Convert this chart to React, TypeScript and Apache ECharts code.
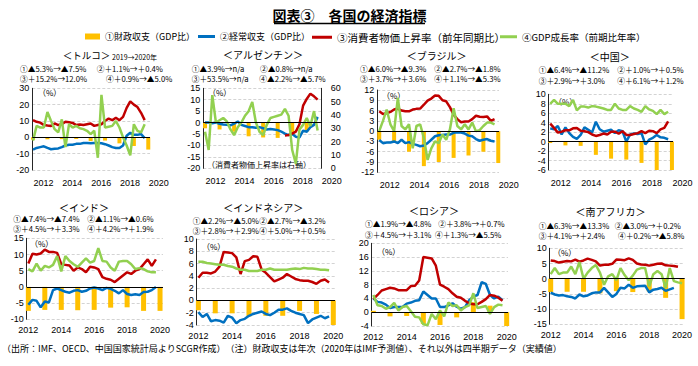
import React, { useEffect, useRef } from 'react';
import * as echarts from 'echarts';

// ---------- categories / ticks ----------
const YEARS = [2012, 2013, 2014, 2015, 2016, 2017, 2018, 2019, 2020];
const YEAR_TICKS = [2012, 2014, 2016, 2018, 2020];
const QUARTER_START = 2012;

const SERIES_NAMES = [
  '①財政収支（GDP比）',
  '②経常収支（GDP比）',
  '③消費者物価上昇率（前年同期比）',
  '④GDP成長率（前期比年率）',
];

const COUNTRY_TITLES = ['＜トルコ＞', '＜アルゼンチン＞', '＜ブラジル＞', '＜中国＞', '＜インド＞', '＜インドネシア＞', '＜ロシア＞', '＜南アフリカ＞'];

const COUNTRY_NOTES = [
  ['①▲5.3%→▲7.5%', '②＋1.1%→＋0.4%', '③＋15.2%→12.0%', '④＋0.9%→▲5.0%'],
  ['①▲3.9%→n/a', '②▲0.8%→n/a', '③＋53.5%→n/a', '④▲2.2%→▲5.7%'],
  ['①▲6.0%→▲9.3%', '②▲2.7%→▲1.8%', '③＋3.7%→＋3.6%', '④＋1.1%→▲5.3%'],
  ['①▲6.4%→▲11.2%', '②＋1.0%→＋0.5%', '③＋2.9%→＋3.0%', '④＋6.1%→＋1.2%'],
  ['①▲7.4%→▲7.4%', '②▲1.1%→▲0.6%', '③＋4.5%→＋3.3%', '④＋4.2%→＋1.9%'],
  ['①▲2.2%→▲5.0%', '②▲2.7%→▲3.2%', '③＋2.8%→＋2.9%', '④＋5.0%→＋0.5%'],
  ['①▲1.9%→▲4.8%', '②＋3.8%→＋0.7%', '③＋4.5%→＋3.1%', '④＋1.3%→▲5.5%'],
  ['①▲6.3%→▲13.3%', '②▲3.0%→＋0.2%', '③＋4.1%→＋2.4%', '④＋0.2%→▲5.8%'],
];

// ---------- Turkey ----------
const trFiscal = [-1.5, -1.2, -1.1, -1.0, -2.3, -2.0, -3.7, -5.3, -7.5];
const trCurrent = [-7.5, -6.5, -6.0, -5.5, -6.5, -7.3, -7.0, -6.8, -6.0, -5.0, -4.5, -4.5, -4.0, -4.0, -3.5, -3.5, -3.7, -3.5, -3.5, -3.6, -4.2, -5.0, -6.0, -6.5, -6.5, -5.0, 1.0, 2.8, 1.5, 1.5, 2.0, -0.5];
const trCpi = [10.5, 9.5, 9.0, 7.5, 7.2, 7.0, 8.5, 7.5, 8.0, 9.5, 9.2, 8.8, 7.5, 7.8, 7.5, 8.0, 8.5, 7.0, 7.5, 8.0, 10.0, 11.5, 10.5, 12.0, 10.5, 12.5, 18.0, 22.0, 20.0, 18.5, 15.0, 10.5];
const trGdp = [-2, 7, 6, 6, 15.5, 10, 5, 3, 11, -6, 8, 6, 7, 5.5, 5, 4, 2, 4, -12.5, 26, 6, 6.5, 7, 10, 6, 0, -5, -11, 8, 4, 3, 8];

// ---------- Argentina ----------
const arFiscal = [-2.5, -3.0, -4.0, -6.0, -6.5, -6.7, -5.4, -3.9, null];
const arCurrent = [0, 0, -0.3, 0, -0.5, -0.8, -1.0, -1.2, -0.5, 0.5, -1.0, -1.5, -2.0, -2.0, -2.3, -2.0, -2.5, -3.0, -2.8, -3.0, -3.3, -4.0, -4.8, -5.5, -5.0, -6.2, -6.5, -3.5, -4.0, -2.0, -1.0, 2.5];
const arCpi = [null, null, null, null, null, null, null, null, null, null, null, null, null, null, null, null, null, null, null, null, null, null, 24.5, 25, 26, 27.5, 33, 47, 52, 56, 54, 51.5];
const arGdp = [-4, -12, 12, 0, 1, 2, 0.5, -3, -5.5, -2, 0, 3, 5, 9, 0, -4, -5.5, -1, 2, 2.5, 3, 3.5, 6, 3, -12, -18, -3, -1, 2, -1.5, 5, -3.5];

// ---------- Brazil ----------
const brFiscal = [-2.5, -3.0, -6.0, -10.2, -9.0, -7.8, -7.1, -6.0, -9.3];
const brCurrent = [-2.6, -3.5, -3.3, -3.3, -3.0, -3.5, -2.5, -3.5, -3.2, -3.7, -4.0, -4.4, -4.2, -3.5, -2.5, -1.5, -1.2, -1.1, -1.0, -1.0, -0.5, -0.3, -0.4, -0.7, -1.3, -1.5, -2.3, -2.8, -2.5, -2.3, -2.8, -3.0];
const brCpi = [5.8, 5.0, 5.2, 5.6, 6.3, 6.6, 6.0, 5.8, 5.8, 6.3, 6.5, 6.6, 7.7, 8.9, 9.5, 10.4, 10.3, 9.0, 8.7, 7.0, 4.8, 3.5, 2.6, 2.8, 2.8, 3.5, 4.5, 4.2, 4.1, 4.3, 3.0, 3.5];
const brGdp = [0, 3, 6.3, 2, 0, 9.7, 1.5, 0.5, 2, -5, 1.5, 2, -2, -8.4, -5, -3, -3.5, -1, -2.5, 0.5, 6.7, 1.5, 0.5, 2, 0.5, 2.5, 0, 0.3, 1.5, 2.5, 2.5, 2.0];

// ---------- China ----------
const cnFiscal = [-0.3, -0.8, -0.9, -2.8, -3.6, -3.8, -4.5, -6.4, -11.2];
const cnCurrent = [2.8, 2.6, 3.3, 1.5, 3.0, 1.8, 1.0, 0.6, 1.4, 3.0, 2.5, 1.9, 4.2, 2.6, 2.1, 2.3, 2.5, 1.8, 2.4, 2.2, 0.0, 1.5, 1.7, 1.6, 1.8, -0.6, 0.4, 0.8, 1.4, 0.9, 0.8, 0.5];
const cnCpi = [3.8, 2.9, 1.9, 2.1, 2.4, 2.4, 2.8, 2.9, 2.3, 2.2, 2.0, 1.5, 1.2, 1.4, 1.7, 1.5, 2.1, 2.1, 1.7, 2.2, 1.4, 1.4, 1.6, 1.8, 2.2, 1.8, 2.3, 2.2, 1.8, 2.6, 2.9, 4.3];
const cnGdp = [8.0, 8.8, 8.0, 8.0, 8.0, 7.5, 8.8, 6.6, 7.4, 7.4, 7.2, 7.5, 7.4, 7.2, 7.0, 6.7, 6.7, 8.0, 7.0, 6.7, 6.7, 7.5, 7.0, 6.7, 6.3, 7.5, 6.8, 6.5, 5.8, 6.7, 5.8, 6.3];

// ---------- India ----------
const inFiscal = [-7.4, -7.1, -7.1, -7.2, -7.1, -6.4, -6.3, -7.4, -7.4];
const inCurrent = [-5.5, -4.0, -4.3, -6.3, -4.5, -4.8, -1.0, -0.5, -1.0, -1.5, -1.8, -1.2, -1.0, -1.5, -1.2, -0.5, -0.2, -0.5, -1.0, -0.3, -0.6, -1.2, -2.0, -1.0, -2.2, -2.5, -2.3, -2.5, -1.6, -1.5, -1.0, 0.0];
const inCpi = [7.2, 10.2, 10.0, 10.3, 11.5, 10.8, 10.8, 10.5, 7.0, 6.8, 6.6, 5.0, 6.0, 5.5, 4.5, 6.2, 6.0, 5.5, 3.0, 2.5, 2.2, 1.5, 2.5, 3.5, 4.5, 4.0, 5.0, 5.5, 7.0, 8.5, 6.5, 8.5];
const inGdp = [5.5, 4.8, 7.2, 5.0, 6.5, 6.0, 6.8, 9.5, 4.8, 9.5, 8.0, 7.0, 6.2, 7.5, 8.8, 7.5, 8.0, 12.0, 8.0, 7.8, 6.0, 5.0, 7.8, 8.0, 8.0, 7.0, 5.5, 5.8, 5.5, 4.8, 4.5, 4.5];

// ---------- Indonesia ----------
const idFiscal = [-1.6, -2.1, -2.1, -2.6, -2.5, -2.5, -1.7, -2.2, -5.0];
const idCurrent = [-1.9, -2.7, -2.2, -3.4, -3.2, -3.3, -3.6, -2.5, -2.8, -3.7, -3.2, -3.0, -2.5, -2.2, -2.0, -1.8, -2.2, -2.4, -2.0, -1.5, -1.5, -1.3, -1.7, -2.0, -2.2, -2.4, -3.7, -3.1, -2.8, -2.5, -2.9, -2.6];
const idCpi = [3.7, 4.5, 4.5, 4.4, 4.7, 5.5, 7.9, 7.8, 7.7, 7.0, 4.3, 6.4, 6.6, 7.2, 7.1, 5.0, 4.5, 3.8, 3.1, 3.4, 3.7, 4.3, 3.9, 3.5, 3.3, 3.2, 3.2, 3.0, 2.7, 3.2, 3.4, 2.9];
const idGdp = [6.3, 6.3, 6.1, 6.0, 5.9, 5.8, 5.8, 5.6, 5.5, 5.2, 5.0, 5.0, 4.8, 4.8, 4.8, 5.0, 5.0, 5.2, 5.0, 5.0, 5.0, 5.0, 5.1, 5.2, 5.1, 5.3, 5.2, 5.2, 5.1, 5.0, 5.0, 4.9];

// ---------- Russia ----------
const ruFiscal = [0.4, -1.2, -1.1, -3.4, -3.7, -1.5, 2.9, 1.9, -4.8];
const ruCurrent = [4.0, 3.0, 2.8, 2.2, 1.2, 1.5, 1.5, 1.5, 2.5, 2.8, 3.3, 3.5, 6.0, 5.0, 4.0, 4.0, 1.5, 1.5, 2.0, 2.6, 1.6, 1.0, 1.5, 3.5, 4.5, 5.0, 8.7, 8.2, 5.0, 4.0, 4.5, 3.5];
const ruCpi = [3.8, 5.0, 6.3, 6.7, 7.1, 6.9, 6.4, 6.4, 6.4, 7.6, 7.7, 9.2, 16.0, 15.8, 15.6, 13.5, 8.0, 7.4, 6.7, 5.5, 4.5, 4.2, 3.3, 2.6, 2.3, 2.3, 3.0, 3.8, 5.0, 4.8, 4.2, 3.3];
const ruGdp = [5.0, 2.0, 1.8, 1.0, 1.5, 2.7, 0.5, 1.5, 1.8, 0.3, -1.3, -1.5, -3.5, -3.8, -0.5, -2.0, 0.5, -1.2, 2.8, 1.8, 2.0, 0.5, 1.5, 2.0, 5.5, 1.2, 1.5, 1.8, -0.5, 1.5, 2.2, 2.0];

// ---------- South Africa ----------
const zaFiscal = [-4.4, -4.3, -4.3, -4.8, -4.1, -4.4, -4.2, -6.3, -13.3];
const zaCurrent = [-4.6, -5.2, -5.5, -5.4, -5.8, -6.0, -6.5, -5.2, -5.8, -5.5, -4.8, -4.5, -4.5, -3.0, -4.5, -6.0, -5.0, -3.0, -3.2, -2.0, -3.0, -2.5, -2.4, -2.3, -4.5, -3.6, -3.4, -3.0, -4.0, -3.5, -3.0];
const zaCpi = [6.0, 5.8, 5.3, 5.6, 5.8, 5.7, 6.3, 5.6, 6.0, 6.6, 6.2, 5.7, 4.3, 4.6, 4.6, 4.9, 6.3, 6.2, 6.1, 6.7, 6.2, 5.0, 4.7, 4.6, 4.3, 4.6, 4.9, 5.0, 4.4, 4.3, 4.2, 3.9];
const zaGdp = [1.5, 3.5, 1.5, 2.0, 2.0, 4.0, 1.5, 5.5, 0.0, 2.0, 3.5, 4.5, 2.0, -2.0, 0.8, 1.5, -0.5, 3.5, 1.2, -0.5, 1.0, 3.0, 3.5, 3.5, -2.5, 1.5, 2.5, 1.5, -3.0, 3.5, -0.8, -1.2, -1.5];

const COUNTRY_DATA = [
  { fiscal: trFiscal, current: trCurrent, cpi: trCpi, gdp: trGdp },
  { fiscal: arFiscal, current: arCurrent, cpi: arCpi, gdp: arGdp },
  { fiscal: brFiscal, current: brCurrent, cpi: brCpi, gdp: brGdp },
  { fiscal: cnFiscal, current: cnCurrent, cpi: cnCpi, gdp: cnGdp },
  { fiscal: inFiscal, current: inCurrent, cpi: inCpi, gdp: inGdp },
  { fiscal: idFiscal, current: idCurrent, cpi: idCpi, gdp: idGdp },
  { fiscal: ruFiscal, current: ruCurrent, cpi: ruCpi, gdp: ruGdp },
  { fiscal: zaFiscal, current: zaCurrent, cpi: zaCpi, gdp: zaGdp },
];

// ---------- layout (positions / sizes / axis ranges) ----------
const LAYOUT = [
  { left: 32.3, top: 88.3, width: 117.7, height: 81.7, xMin: 2011.95, xMax: 2020.12, yMin: -20, yMax: 30, yStep: 10, topRow: true },
  { left: 203.3, top: 88.3, width: 118.4, height: 80, xMin: 2011.88, xMax: 2020.03, yMin: -20, yMax: 15, yStep: 5, topRow: true },
  { left: 377.3, top: 90, width: 121.7, height: 82.3, xMin: 2011.87, xMax: 2020.05, yMin: -12, yMax: 12, yStep: 3, topRow: true },
  { left: 548.7, top: 94.3, width: 124.3, height: 75.7, xMin: 2011.9, xMax: 2020.07, yMin: -6, yMax: 10, yStep: 2, topRow: true },
  { left: 26.7, top: 238.3, width: 136.3, height: 81, xMin: 2011.9, xMax: 2020.18, yMin: -10, yMax: 15, yStep: 5, topRow: false },
  { left: 196.7, top: 239, width: 138.3, height: 86, xMin: 2011.9, xMax: 2020.1, yMin: -4, yMax: 10, yStep: 2, topRow: false },
  { left: 371.7, top: 243.3, width: 136.3, height: 82.7, xMin: 2011.9, xMax: 2020.08, yMin: -4, yMax: 20, yStep: 4, topRow: false },
  { left: 549.7, top: 248.3, width: 135, height: 76, xMin: 2011.94, xMax: 2020.16, yMin: -15, yMax: 10, yStep: 5, topRow: false },
];

const TITLE_POS = [[86.5, 55], [263, 54], [436.7, 55], [609.7, 56], [84, 207], [263.3, 207.3], [434, 210], [610.5, 211.7]];
const NOTE_X = [
  [20, 96.7, 20, 106], [191.7, 260, 191.7, 259.3], [360, 434.3, 360, 434.3], [538.7, 617.3, 538.7, 617.3],
  [13.3, 87.3, 13.3, 87.3], [192.7, 259.3, 192.7, 259.3], [365, 438.3, 365, 435], [538.7, 614.7, 538.7, 618],
];
const NOTE_Y = [[68, 78.8], [68, 78.8], [68, 78.8], [69, 80.5], [218.7, 228.3], [220, 230.6], [223.7, 234.5], [225.7, 235.8]];
const PCT_POS = [[38, 92.7], [208, 92.7], [382, 95], [554, 101], [30, 243.3], [202, 246.7], [377, 251.7], [553, 252.3]];

const COLORS = ['#FFC000', '#0070C0', '#C00000', '#92D050'];
const FONT = '"Noto Sans CJK JP", sans-serif';
const NUM_FONT = '"Liberation Sans", "Noto Sans", sans-serif';

function quarterly(values: (number | null)[]) {
  const out: [number, number][] = [];
  values.forEach((v, k) => {
    if (v !== null && v !== undefined) out.push([QUARTER_START + k * 0.25, v]);
  });
  return out;
}

function txt(text: string, x: number, y: number, size: number, align = 'left', bold = false) {
  return {
    type: 'text',
    x,
    y,
    silent: true,
    style: {
      text,
      fill: '#000',
      fontSize: size,
      fontFamily: FONT,
      fontWeight: bold ? 'bold' : 'normal',
      align,
      textAlign: align,
      verticalAlign: 'middle',
      textVerticalAlign: 'middle',
    },
  };
}

function buildOption() {
  const grid = LAYOUT.map((l) => ({ left: l.left, top: l.top, width: l.width, height: l.height, containLabel: false }));

  const xAxis = LAYOUT.map((l, i) => ({
    type: 'value',
    gridIndex: i,
    min: l.xMin,
    max: l.xMax,
    axisLine: { show: false },
    axisTick: { show: false },
    splitLine: { show: false },
    axisLabel: {
      customValues: YEAR_TICKS,
      formatter: (v: number) => String(Math.round(v)),
      fontSize: 9,
      color: '#000',
      fontFamily: NUM_FONT,
      margin: l.topRow ? 8 : 6,
      padding: l.topRow ? [0, 0, 0, 21] : 0,
    },
  }));

  const yAxis: any[] = LAYOUT.map((l, i) => ({
    type: 'value',
    gridIndex: i,
    min: l.yMin,
    max: l.yMax,
    interval: l.yStep,
    axisLine: { show: true, onZero: false, lineStyle: { color: '#262626', width: 1 } },
    axisTick: { show: false },
    axisLabel: { fontSize: 9, color: '#000', margin: 3, fontFamily: NUM_FONT },
    splitLine: { show: true, lineStyle: { color: '#C8C8C8', type: [3, 2], width: 0.8 } },
  }));
  // Argentina CPI right axis
  yAxis.push({
    type: 'value',
    gridIndex: 1,
    position: 'right',
    min: 0,
    max: 60,
    interval: 10,
    axisLine: { show: true, onZero: false, lineStyle: { color: '#262626', width: 1 } },
    axisTick: { show: false },
    axisLabel: { fontSize: 9, color: '#000', margin: 9, fontFamily: NUM_FONT },
    splitLine: { show: false },
  });

  const series: any[] = [];
  COUNTRY_DATA.forEach((c, i) => {
    const l = LAYOUT[i];
    series.push({
      name: SERIES_NAMES[0],
      type: 'bar',
      xAxisIndex: i,
      yAxisIndex: i,
      barWidth: l.topRow ? 4 : 5,
      itemStyle: { color: COLORS[0] },
      data: c.fiscal.map((v, j) => [YEARS[j], v]).filter((d) => d[1] !== null),
      markLine: {
        silent: true,
        symbol: 'none',
        label: { show: false },
        lineStyle: { color: '#000', width: 1, type: 'solid' },
        data: [{ yAxis: 0 }],
      },
    });
    const lines = [c.current, c.cpi, c.gdp];
    lines.forEach((vals, s) => {
      series.push({
        name: SERIES_NAMES[s + 1],
        type: 'line',
        xAxisIndex: i,
        yAxisIndex: s === 1 && i === 1 ? 8 : i,
        symbol: 'none',
        lineStyle: { color: COLORS[s + 1], width: 2.5 },
        itemStyle: { color: COLORS[s + 1] },
        data: quarterly(vals),
      });
    });
  });

  const ts = (size: number) => ({ color: '#000', fontFamily: FONT, fontSize: size });
  const legend = [
    { top: 27, left: 80, itemWidth: 15, itemHeight: 6, data: [{ name: SERIES_NAMES[0], icon: 'rect' }], textStyle: ts(9) },
    { top: 27, left: 193, itemWidth: 17, itemHeight: 3, data: [{ name: SERIES_NAMES[1], icon: 'rect' }], textStyle: ts(9) },
    { top: 27, left: 307, itemWidth: 20, itemHeight: 3, data: [{ name: SERIES_NAMES[2], icon: 'rect' }], textStyle: ts(10.5) },
    { top: 27, left: 495, itemWidth: 17, itemHeight: 3, data: [{ name: SERIES_NAMES[3], icon: 'rect' }], textStyle: ts(9.5) },
  ];

  const graphic: any[] = [];
  graphic.push(txt('図表③　各国の経済指標', 349.5, 15, 14, 'center', true));
  graphic.push({ type: 'line', silent: true, shape: { x1: 274, y1: 23.5, x2: 425, y2: 23.5 }, style: { stroke: '#000', lineWidth: 1.3 } });
  COUNTRY_TITLES.forEach((t, i) => {
    graphic.push(txt(t, TITLE_POS[i][0], TITLE_POS[i][1], i === 0 ? 9.5 : 10, 'center'));
    const notes = COUNTRY_NOTES[i];
    notes.forEach((n, k) => {
      graphic.push(txt(n, NOTE_X[i][k], NOTE_Y[i][k < 2 ? 0 : 1], 7.7));
    });
    graphic.push(txt('（%）', PCT_POS[i][0], PCT_POS[i][1], 8));
  });
  graphic.push(txt('2019→2020年', 112, 57, 7));
  graphic.push(txt('（消費者物価上昇率は右軸）', 207, 164, 8));
  graphic.push(
    txt('（出所：IMF、OECD、中国国家統計局よりSCGR作成）　（注）財政収支は年次（2020年はIMF予測値）、それ以外は四半期データ（実績値）', 2, 348, 9)
  );

  return {
    animation: false,
    backgroundColor: '#fff',
    textStyle: { fontFamily: FONT },
    grid,
    xAxis,
    yAxis,
    legend,
    series,
    graphic,
  };
}

export default function App() {
  const ref = useRef<HTMLDivElement>(null);
  useEffect(() => {
    const chart = echarts.init(ref.current as HTMLDivElement, null, { renderer: 'svg' });
    chart.setOption(buildOption() as any);
    return () => chart.dispose();
  }, []);
  return (
    <div
      ref={ref}
      style={{ position: 'absolute', left: 0, top: 0, width: 698, height: 366, background: '#fff' }}
    />
  );
}
